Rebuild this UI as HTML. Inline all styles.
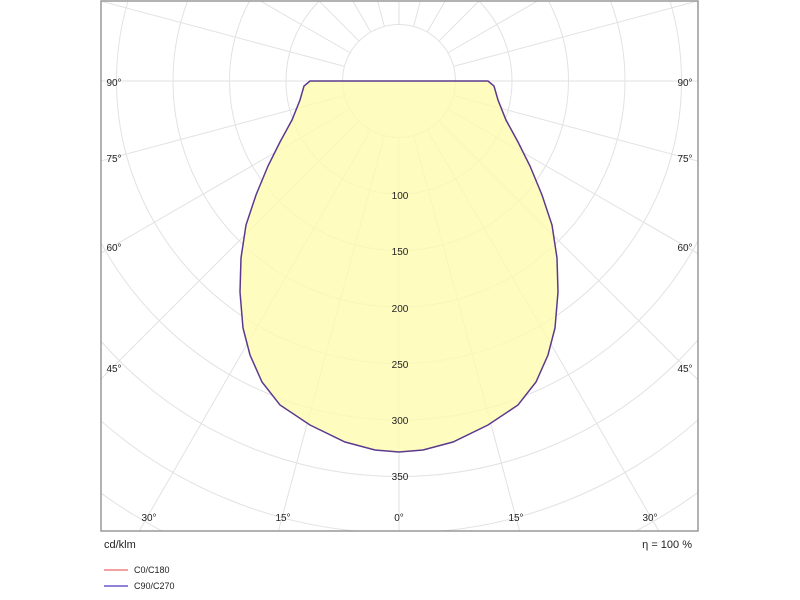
<!DOCTYPE html>
<html style="margin:0;width:800px;height:600px;overflow:hidden"><head><meta charset="utf-8"><style>
body{margin:0;background:#fff;width:800px;height:600px;overflow:hidden;font-family:"Liberation Sans",sans-serif}
svg{display:block}
</style></head><body>
<svg width="800" height="600" xmlns="http://www.w3.org/2000/svg" font-family="Liberation Sans, sans-serif">
<defs><clipPath id="c"><rect x="101" y="1" width="597" height="530"/></clipPath></defs>
<g clip-path="url(#c)">
<g fill="none" stroke="#e2e2e2" stroke-width="1">
<circle cx="399" cy="81" r="56.5"/><circle cx="399" cy="81" r="113"/><circle cx="399" cy="81" r="169.5"/><circle cx="399" cy="81" r="226"/><circle cx="399" cy="81" r="282.5"/><circle cx="399" cy="81" r="339"/><circle cx="399" cy="81" r="395.5"/><circle cx="399" cy="81" r="452"/><circle cx="399" cy="81" r="508.5"/><circle cx="399" cy="81" r="565"/>
</g>
<g stroke="#e2e2e2" stroke-width="1" id="sp"></g>
<path d="M399,81 L310,81 L304,86 L300,100 L292,120 L280,142 L268,166 L256,195 L246,225 L241,258 L240,292 L243,328 L250,355 L262,382 L280,405 L310,425 L345,442 L375,450 L399,452 L423,450 L453,442 L488,425 L518,405 L536,382 L548,355 L555,328 L558,292 L557,258 L552,225 L542,195 L530,166 L518,142 L506,120 L498,100 L494,86 L488,81 Z" fill="#fffbb0" fill-opacity="0.8" stroke="#5b3a8e" stroke-width="1.5"/>
</g>
<rect x="101" y="1" width="597" height="530" fill="none" stroke="#999" stroke-width="1.5"/>
<g font-size="10" fill="#222" text-anchor="middle">
<text x="400" y="199">100</text><text x="400" y="255">150</text><text x="400" y="312">200</text><text x="400" y="368">250</text><text x="400" y="424">300</text><text x="400" y="480">350</text>
<text x="114" y="86">90°</text><text x="685" y="86">90°</text>
<text x="114" y="162">75°</text><text x="685" y="162">75°</text>
<text x="114" y="251">60°</text><text x="685" y="251">60°</text>
<text x="114" y="372">45°</text><text x="685" y="372">45°</text>
<text x="149" y="521">30°</text><text x="283" y="521">15°</text><text x="399" y="521">0°</text><text x="516" y="521">15°</text><text x="650" y="521">30°</text>
</g>
<text x="104" y="548" font-size="11" fill="#222">cd/klm</text>
<text x="692" y="548" font-size="11" fill="#222" text-anchor="end">η = 100 %</text>
<line x1="104" y1="570" x2="128" y2="570" stroke="#f08080" stroke-width="1.5"/>
<text x="134" y="573" font-size="9" fill="#222">C0/C180</text>
<line x1="104" y1="586" x2="128" y2="586" stroke="#6a5acd" stroke-width="1.5"/>
<text x="134" y="589" font-size="9" fill="#222">C90/C270</text>
</svg>
<script>
var g=document.getElementById('sp'),s='';
for(var a=0;a<360;a+=15){var r=a*Math.PI/180,sx=Math.sin(r),cy=Math.cos(r);s+='<line x1="'+(399+56.5*sx)+'" y1="'+(81+56.5*cy)+'" x2="'+(399+900*sx)+'" y2="'+(81+900*cy)+'"/>';}
g.innerHTML=s;
</script>
</body></html>
